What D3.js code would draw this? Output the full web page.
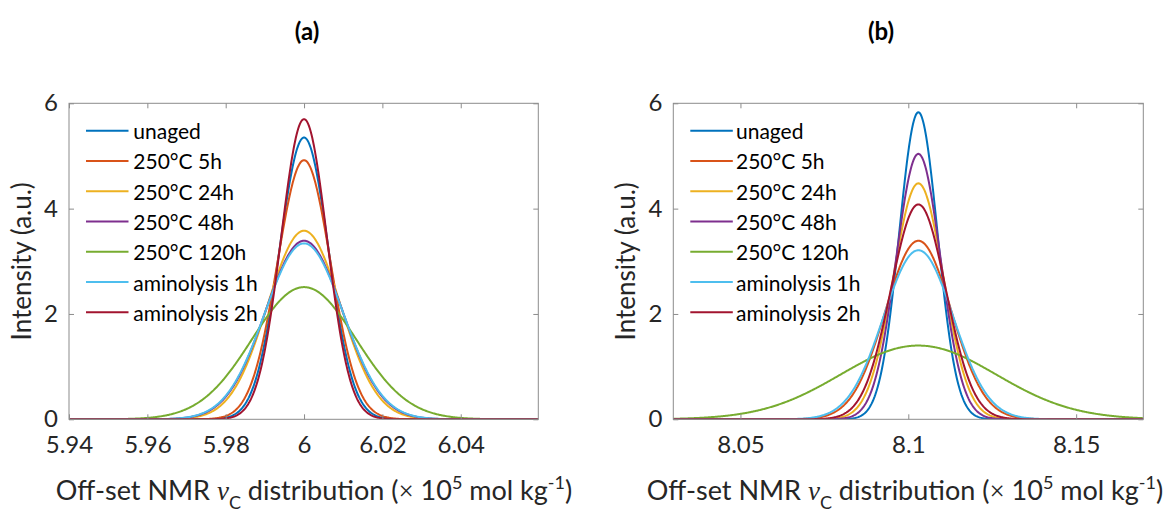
<!DOCTYPE html>
<html>
<head>
<meta charset="utf-8">
<script src="https://cdn.jsdelivr.net/npm/d3@7"></script>
<style>
  body { margin: 0; background: #fff; }
  svg text { font-family: Lato, "Open Sans", sans-serif; fill: #262626; }
</style>
</head>
<body>
<svg id="chart" width="1173" height="512"></svg>
<script>
// Series shared by both panels
const seriesNames = ["unaged", "250°C 5h", "250°C 24h", "250°C 48h", "250°C 120h", "aminolysis 1h", "aminolysis 2h"];
const seriesColors = ["#0072BD", "#D95319", "#EDB120", "#7E2F8E", "#77AC30", "#4DBEEE", "#A2142F"];

// Panel (a): Gaussian distributions (peak height, standard deviation, centre)
const peaksA  = [5.35, 4.92, 3.58, 3.39, 2.51, 3.34, 5.70];
const sigmasA = [0.00623, 0.00677, 0.00930, 0.00983, 0.01327, 0.00997, 0.00584];
const centerA = 6.0;
const xDomainA = [5.94, 6.0598];
const xTicksA = [5.94, 5.96, 5.98, 6, 6.02, 6.04];

// Panel (b)
const peaksB  = [5.83, 3.39, 4.48, 5.04, 1.40, 3.21, 4.08];
const sigmasB = [0.00571, 0.00983, 0.00744, 0.00661, 0.0232, 0.01038, 0.00816];
const centerB = 8.103;
const xDomainB = [8.03, 8.17];
const xTicksB = [8.05, 8.1, 8.15];

const yDomain = [0, 6];
const yTicks = [0, 2, 4, 6];

const svg = d3.select("#chart");
const plotTop = 103.3, plotBottom = 419.3;

const panels = [
  { tag: "(a)", tagX: 307, titleX: 314, left: 69, right: 538.3, peaks: peaksA, sigmas: sigmasA, center: centerA, domain: xDomainA, ticks: xTicksA, legendTextDx: 64.3 },
  { tag: "(b)", tagX: 881, titleX: 905, left: 673.3, right: 1143.3, peaks: peaksB, sigmas: sigmasB, center: centerB, domain: xDomainB, ticks: xTicksB, legendTextDx: 62.7 }
];

const fmt = d => String(+d.toFixed(2));

panels.forEach(p => {
  const x = d3.scaleLinear().domain(p.domain).range([p.left, p.right]);
  const y = d3.scaleLinear().domain(yDomain).range([plotBottom, plotTop]);
  const g = svg.append("g");

  // panel tag
  svg.append("text").attr("x", p.tagX).attr("y", 40)
    .attr("text-anchor", "middle").attr("font-size", 24).attr("font-weight", "bold")
    .style("fill", "#000").text(p.tag);

  // curves
  const clipId = "clip" + p.tag.replace(/\W/g, "");
  svg.append("clipPath").attr("id", clipId).append("rect")
    .attr("x", p.left).attr("y", plotTop - 5).attr("width", p.right - p.left).attr("height", plotBottom - plotTop + 5);
  const xs = d3.range(0, 601).map(i => p.domain[0] + (p.domain[1] - p.domain[0]) * i / 600);
  const line = d3.line().x(d => x(d[0])).y(d => y(d[1]));
  const cg = g.append("g").attr("clip-path", `url(#${clipId})`);
  seriesNames.forEach((name, i) => {
    const pts = xs.map(v => [v, p.peaks[i] * Math.exp(-((v - p.center) ** 2) / (2 * p.sigmas[i] ** 2))]);
    cg.append("path").datum(pts).attr("d", line)
      .attr("fill", "none").attr("stroke", seriesColors[i]).attr("stroke-width", 2);
  });

  // box
  g.append("rect").attr("x", p.left).attr("y", plotTop).attr("width", p.right - p.left).attr("height", plotBottom - plotTop)
    .attr("fill", "none").attr("stroke", "#8c8c8c").attr("stroke-width", 1);

  // axes: ticks inward on all four sides
  const axB = d3.axisBottom(x).tickValues(p.ticks).tickSize(-5).tickPadding(17).tickFormat(fmt);
  const axT = d3.axisTop(x).tickValues(p.ticks).tickSize(-5).tickFormat("");
  const axL = d3.axisLeft(y).tickValues(yTicks).tickSize(-5).tickPadding(11).tickFormat(d3.format("d"));
  const axR = d3.axisRight(y).tickValues(yTicks).tickSize(-5).tickFormat("");
  [[axB, `translate(0,${plotBottom})`], [axT, `translate(0,${plotTop})`], [axL, `translate(${p.left},0)`], [axR, `translate(${p.right},0)`]]
    .forEach(([ax, tr]) => {
      const a = g.append("g").attr("transform", tr).call(ax);
      a.select(".domain").remove();
      a.selectAll(".tick line").attr("stroke", "#8c8c8c");
      a.selectAll(".tick text").attr("font-size", 24).style("font-family", "Lato, sans-serif").attr("fill", "#262626");
    });

  // y title
  svg.append("text")
    .attr("transform", `translate(${p.left - 45},${(plotTop + plotBottom) / 2}) rotate(-90)`)
    .attr("text-anchor", "middle").attr("dominant-baseline", "middle").attr("font-size", 26)
    .text("Intensity (a.u.)");

  // x title
  const t = svg.append("text")
    .attr("x", p.titleX).attr("y", 500)
    .attr("text-anchor", "middle").attr("font-size", 27);
  t.append("tspan").text("Off-set NMR ");
  t.append("tspan").style("font-family", "'Liberation Serif', serif").style("font-style", "italic").text("ν");
  t.append("tspan").attr("dy", 9).attr("font-size", 18).text("C");
  t.append("tspan").attr("dy", -9).text(" distribution (");
  t.append("tspan").style("font-family", "'Liberation Serif', serif").text("×");
  t.append("tspan").text(" 10");
  t.append("tspan").attr("dy", -11).attr("font-size", 18).text("5");
  t.append("tspan").attr("dy", 11).text(" mol kg");
  t.append("tspan").attr("dy", -11).attr("font-size", 18).text("-1");
  t.append("tspan").attr("dy", 11).text(")");

  // legend
  const lg = g.append("g");
  seriesNames.forEach((name, i) => {
    const ly = plotTop + 27.4 + i * 30.27;
    lg.append("line").attr("x1", p.left + 17).attr("x2", p.left + 59.5).attr("y1", ly).attr("y2", ly)
      .attr("stroke", seriesColors[i]).attr("stroke-width", 2);
    lg.append("text").attr("x", p.left + p.legendTextDx).attr("y", ly)
      .attr("dominant-baseline", "central").attr("font-size", 21).style("fill", "#000").text(name);
  });
});
</script>
</body>
</html>
